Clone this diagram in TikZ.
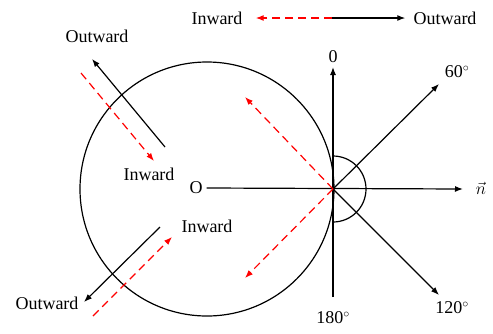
\documentclass[tikz,border=0pt]{standalone}
\usepackage{fontspec}
\setmainfont{Liberation Serif}
\usetikzlibrary{arrows.meta, positioning, calc}

\tikzset{
    axis/.style={line width=1.2pt, -{Latex[length=8pt, width=6pt]}},
    flowin/.style={line width=1.2pt, red, dash pattern=on 8pt off 5pt, -{Latex[length=8pt, width=6pt]}},
    lbl/.style={font=\fontsize{18}{20}\selectfont, inner sep=0pt}
}

\begin{document}
\begin{tikzpicture}[x=1pt, y=-1pt]
    \useasboundingbox (0, 0) rectangle (493, 333);

    % circle and the point on it
    \node[circle, draw, line width=1.2pt, minimum size=254pt, inner sep=0pt] (ring) at (207, 189) {};
    \coordinate (p) at (333, 189);
    \node[lbl] (o) at (196, 188) {O};

    % axes through p
    \coordinate (top) at (333, 67);
    \coordinate (bot) at (333, 297);
    \coordinate (ntip) at (463, 189);
    \coordinate (sixty) at (439, 84);
    \coordinate (onetwenty) at (439, 295);
    \draw[axis] (bot) -- (top);
    \draw[axis] ($(o.east)+(4, 0)$) -- (ntip);
    \draw[axis] (p) -- (sixty);
    \draw[axis] (p) -- (onetwenty);
    \draw[line width=1.2pt] ($(p)+(0,-33)$) arc[start angle=-90, end angle=90, radius=33];

    \node[lbl] (zero) at (333, 57) {0};
    \node[lbl] (deg180) at (333, 318) {180$^\circ$};
    \node[lbl] (deg60) at (457, 72) {60$^\circ$};
    \node[lbl] (deg120) at (452, 308) {120$^\circ$};
    \node[lbl] (n) at (481, 188) {$\vec{n}$};

    % red arrows leaving p
    \coordinate (ul) at (245, 97);
    \coordinate (ll) at (245, 278);
    \draw[flowin] (p) -- (ul);
    \draw[flowin] (p) -- (ll);

    % legend
    \node[lbl] (legin) at (217, 18) {Inward};
    \node[lbl] (legout) at (445, 18) {Outward};
    \coordinate (mid) at (332, 18);
    \draw[flowin] (mid) -- ($(legin.east)+(13, 0)$);
    \draw[axis] (mid) -- ($(legout.west)+(-8, 0)$);

    % upper left pair
    \coordinate (a1) at (165, 147);
    \coordinate (a2) at (92, 59);
    \coordinate (b1) at (81, 73);
    \coordinate (b2) at (154, 161);
    \draw[axis] (a1) -- (a2);
    \draw[flowin] (b1) -- (b2);
    \node[lbl] (out1) at (97, 36) {Outward};
    \node[lbl] (in1) at (149, 174) {Inward};

    % lower left pair
    \coordinate (c1) at (160, 227);
    \coordinate (c2) at (84, 302);
    \coordinate (d1) at (93, 316);
    \coordinate (d2) at (172, 237);
    \draw[axis] (c1) -- (c2);
    \draw[flowin] (d1) -- (d2);
    \node[lbl] (out2) at (47, 303) {Outward};
    \node[lbl] (in2) at (207, 226) {Inward};
\end{tikzpicture}
\end{document}
